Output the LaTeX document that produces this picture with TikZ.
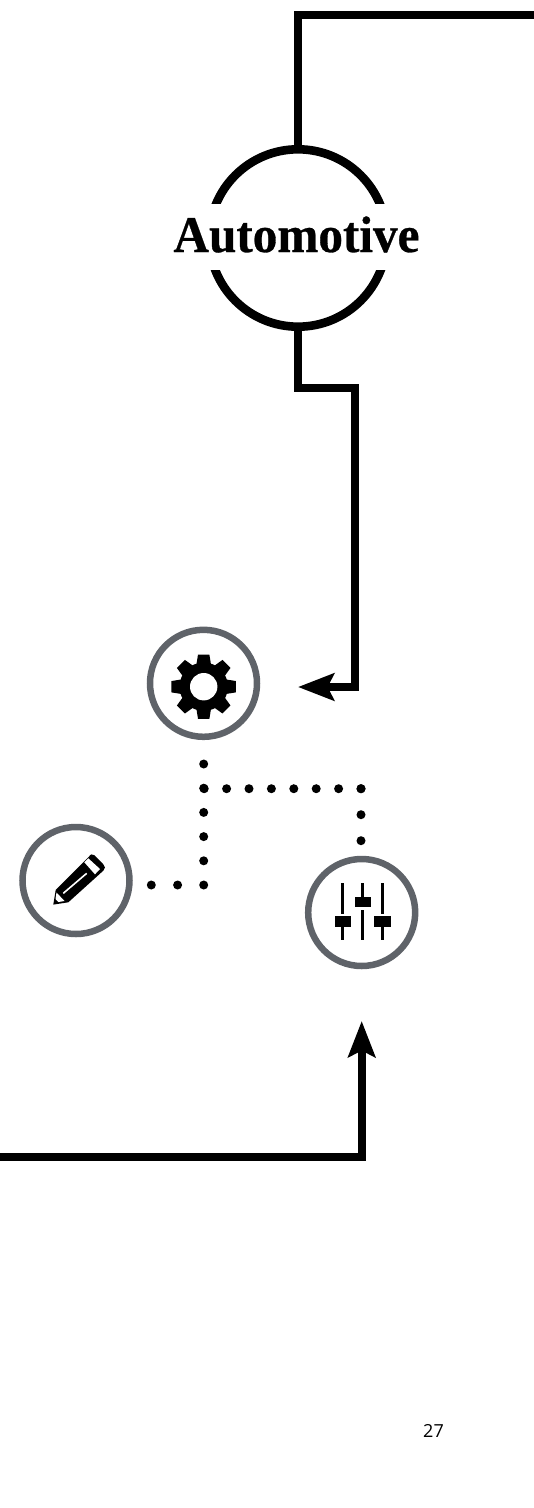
\documentclass[tikz,border=0pt]{standalone}
\usepackage{fontspec}
\usetikzlibrary{arrows.meta}
\setmainfont{Liberation Serif}
\newfontfamily\headfont[FakeBold=0.6]{Liberation Serif Bold}
\newfontfamily\pagefont{Open Sans}
\definecolor{ringgrey}{HTML}{5F6369}
\tikzset{
  x=1pt,y=-1pt,
  wire/.style={line width=8pt,draw=black,miter limit=10},
  flow/.style={wire,-{Stealth[length=36pt,width=27pt,inset=6.5pt,sep=0pt]}},
  ring/.style={circle,draw=ringgrey,line width=6.5pt,minimum size=107pt,inner sep=0pt,outer sep=0pt},
  bigring/.style={circle,draw=black,line width=8.6pt,minimum size=177.4pt,inner sep=0pt,outer sep=3pt},
  dotted line/.style={line width=9pt,line cap=round,dash pattern=on 0pt off #1},
  slider/.style={line width=3pt,draw=black},
  knob/.style={fill=black,draw=none},
}
\begin{document}
\begin{tikzpicture}
\useasboundingbox (0,0) rectangle (534,1508);
% Automotive
\node[bigring] (auto) at (298,238) {};
\fill[white] (160,204) rectangle (430,270);
\node[inner sep=0pt,anchor=base] (autolabel) at (296.5,252) {\resizebox{246pt}{35.6pt}{\headfont Automotive}};
\coordinate (topright) at (534,15.2);
\draw[wire] (auto.north) -- (298,15.2) -- (topright);
% rings
\node[ring] (gear) at (203.5,683.3) {};
\node[ring] (pencil) at (76,880.5) {};
\node[ring] (sliders) at (361.7,912.5) {};
% arrows
\coordinate (gearin) at (298,687);
\draw[flow] (auto.south) -- (298,388.3) -- (355,388.3) -- (355,687) -- (gearin);
\coordinate (leftend) at (0,1157.2);
\coordinate (slidersin) at (361.7,1021);
\draw[flow] (leftend) -- (361.7,1157.2) -- (slidersin);
% gear icon
\begin{scope}[shift={(203.7,686.7)}]
  \foreach \a in {0,45,...,315} {
    \fill[black] (\a-18:23.5) -- (\a-10:32.7) -- (\a+10:32.7) -- (\a+18:23.5) -- cycle;
  }
  \fill[black] (0,0) circle[radius=24.2];
  \fill[white] (0,0) circle[radius=13.7];
\end{scope}
% pencil icon
\fill[black] (53.3,904.6) -- (55.7,890) -- (88.7,857)
  .. controls (90.5,854) and (92.5,853.5) .. (94.5,855.3) -- (103.5,864.5)
  .. controls (105.5,866.5) and (105.3,868.5) .. (103.5,870.5) -- (68.3,902.3) -- cycle;
\fill[white] (84.3,862.3) -- (88.3,858.3) -- (100,869) -- (95,874.3) -- cycle;
\draw[white,line width=1.6pt] (63.3,893.3) -- (86.7,873.3);
\fill[white] (56.5,892.5) -- (64.5,901) -- (58.5,902) -- (55.5,899) -- cycle;
% sliders icon
\draw[slider] (342.7,883) -- (342.7,913.5) (342.7,926) -- (342.7,940);
\draw[slider] (362.7,883) -- (362.7,897) (362.7,910) -- (362.7,940);
\draw[slider] (382.3,883) -- (382.3,913.5) (382.3,926) -- (382.3,940);
\fill[knob] (335,916) rectangle (351.3,926.7);
\fill[knob] (354.7,896.7) rectangle (371,907.3);
\fill[knob] (374.3,916) rectangle (390.5,926.7);
% dots
\coordinate (d1) at (203.7,764);
\coordinate (j1) at (203.7,788.7);
\coordinate (j2) at (203.7,885);
\coordinate (d3) at (151.3,885);
\coordinate (j3) at (361,788.7);
\coordinate (d4) at (361,840.8);
\draw[dotted line=24.2pt] (d1) -- (j2);
\draw[dotted line=26.3pt] (d3) -- (j2);
\draw[dotted line=22.4pt] (j3) -- (j1);
\draw[dotted line=26pt] (j3) -- (d4);
\node[inner sep=0pt,anchor=base,font=\pagefont\fontsize{18pt}{18pt}\selectfont] (page) at (433.5,1437) {27};
\end{tikzpicture}
\end{document}
